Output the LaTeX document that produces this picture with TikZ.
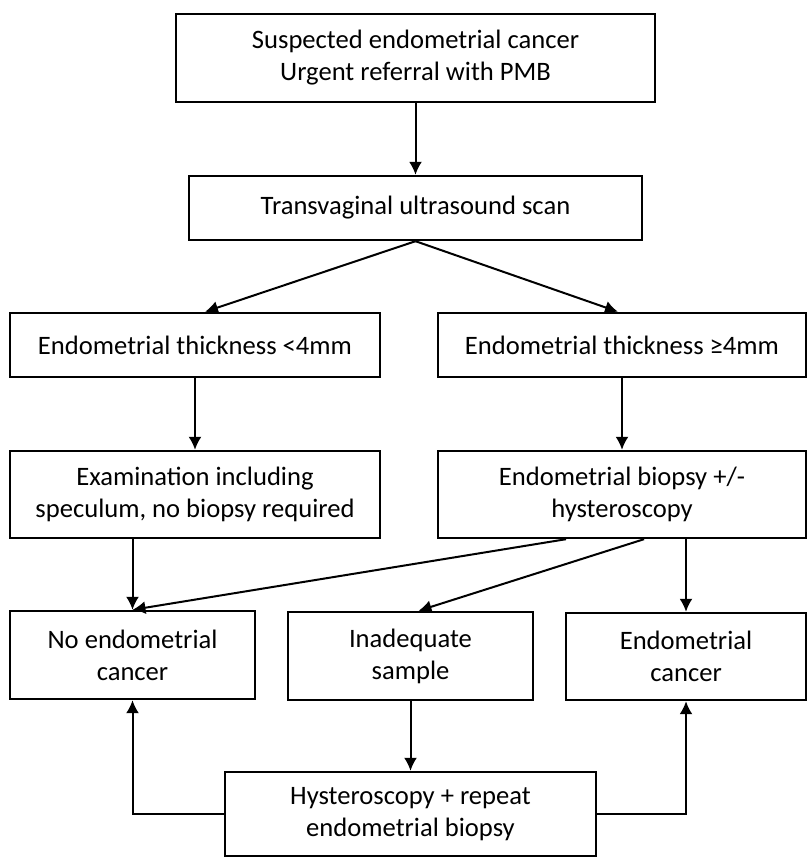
\documentclass[tikz,border=0pt]{standalone}
\usepackage{fontspec}
\setmainfont{Carlito}
\usetikzlibrary{arrows.meta,positioning,calc}
\tikzset{
  box/.style={draw=black, line width=2.4pt, fill=white, align=center, inner sep=0pt,
    font=\fontsize{26.6}{32}\selectfont},
  conn/.style={line width=2pt, -{Latex[length=13pt,width=13pt]}},
  plain/.style={line width=2pt}
}
\begin{document}
\begin{tikzpicture}[x=1pt,y=-1pt]
\useasboundingbox (0,0) rectangle (810,866);
\node[box, minimum width=479pt, minimum height=88pt] (top) at (415.5,58) {Suspected endometrial cancer\\Urgent referral with PMB};
\node[box, minimum width=453pt, minimum height=64pt] (tv) at (415.5,208) {Transvaginal ultrasound scan};
\node[box, minimum width=370pt, minimum height=64pt] (l1) at (195,345) {Endometrial thickness <4mm};
\node[box, minimum width=368pt, minimum height=64pt] (r1) at (622,345) {Endometrial thickness ≥4mm};
\node[box, minimum width=370pt, minimum height=87pt] (l2) at (195,494.5) {Examination including\\speculum, no biopsy required};
\node[box, minimum width=368pt, minimum height=87pt] (r2) at (622,494.5) {Endometrial biopsy +/-\\hysteroscopy};
\node[box, minimum width=245pt, minimum height=88pt] (b1) at (132.5,655) {No endometrial\\cancer};
\node[box, minimum width=245pt, minimum height=88pt] (b2) at (410.5,656) {Inadequate\\sample};
\node[box, minimum width=240pt, minimum height=87pt] (b3) at (686,656.5) {Endometrial\\cancer};
\node[box, minimum width=371pt, minimum height=84pt] (h) at (410.5,814) {Hysteroscopy + repeat\\endometrial biopsy};

\draw[conn] (top.south) -- (tv.north);
\draw[conn] (tv.south) -- ([xshift=10pt]l1.north);
\draw[conn] (tv.south) -- ([xshift=-4pt]r1.north);
\draw[conn] (l1.south) -- (l2.north);
\draw[conn] (r1.south) -- (r2.north);
\draw[conn] (l2.south -| b1.north) -- (b1.north);
\draw[conn] ([xshift=-56pt]r2.south) -- (b1.north);
\draw[conn] ([xshift=22pt]r2.south) -- ([xshift=8pt]b2.north);
\draw[conn] (r2.south -| b3.north) -- (b3.north);
\draw[conn] (b2.south) -- (h.north);
\draw[conn] (h.west) -| (b1.south);
\draw[conn] (h.east) -| (b3.south);
\end{tikzpicture}
\end{document}
